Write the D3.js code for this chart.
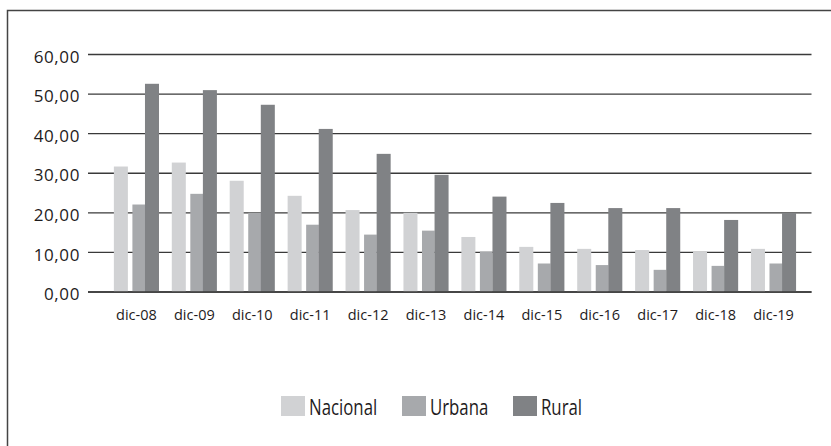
<!DOCTYPE html>
<html>
<head>
<meta charset="utf-8">
<script src="https://cdn.jsdelivr.net/npm/d3@7"></script>
<style>
  body { margin: 0; background: #fff; }
  text { font-family: "Open Sans", sans-serif; fill: #1e1b1c; }
</style>
</head>
<body>
<div id="chart"></div>
<script>
// data
var categories = ["dic-08", "dic-09", "dic-10", "dic-11", "dic-12", "dic-13",
                  "dic-14", "dic-15", "dic-16", "dic-17", "dic-18", "dic-19"];
var seriesNames = ["Nacional", "Urbana", "Rural"];
var nacional = [31.7, 32.7, 28.1, 24.3, 20.7, 20.0, 13.9, 11.4, 10.9, 10.6, 10.2, 10.9];
var urbana   = [22.1, 24.8, 20.0, 17.0, 14.5, 15.5, 10.2,  7.2,  6.8,  5.6,  6.6,  7.2];
var rural    = [52.6, 51.0, 47.3, 41.2, 34.9, 29.6, 24.1, 22.5, 21.2, 21.2, 18.2, 20.0];
var yTicks = [0, 10, 20, 30, 40, 50, 60];

var series = [nacional, urbana, rural];
var colors = ["#d1d2d4", "#a7a9ac", "#808285"];

var width = 831, height = 446;

var svg = d3.select("#chart").append("svg")
    .attr("width", width)
    .attr("height", height);

// outer frame (only left and top are visible in the picture)
svg.append("rect")
    .attr("x", 7.5).attr("y", 10.5)
    .attr("width", width).attr("height", height)
    .attr("fill", "none")
    .attr("stroke", "#444")
    .attr("stroke-width", 1.5);

var x = d3.scaleBand()
    .domain(categories)
    .range([107.5, 802.5]);

var y = d3.scaleLinear()
    .domain([0, 60])
    .range([292, 54.5]);

var locale = d3.formatLocale({decimal: ",", thousands: ".", grouping: [3], currency: ["", ""]});
var fmt = locale.format(".2f");

// gridlines
svg.append("g")
    .selectAll("line")
    .data(yTicks)
    .enter().append("line")
    .attr("x1", 88).attr("x2", 811.5)
    .attr("y1", d => y(d)).attr("y2", d => y(d))
    .attr("stroke", "#3a3a3a")
    .attr("stroke-width", 1.4);

// y labels
svg.append("g")
    .selectAll("text")
    .data(yTicks)
    .enter().append("text")
    .attr("x", 80)
    .attr("y", d => y(d))
    .attr("dy", "0.72em")
    .attr("transform", "translate(0,-4)")
    .attr("text-anchor", "end")
    .attr("font-size", 17)
    .attr("letter-spacing", 0.6)
    .text(d => fmt(d));

// bars: offsets from category centre, as fraction of band width
var bw = x.bandwidth();
var offs = [[-0.39, 0.242], [-0.07, 0.22], [0.147, 0.242]];

series.forEach(function(vals, s) {
    svg.append("g")
        .selectAll("rect")
        .data(vals)
        .enter().append("rect")
        .attr("x", (d, i) => x(categories[i]) + bw / 2 + offs[s][0] * bw)
        .attr("width", offs[s][1] * bw)
        .attr("y", d => y(d))
        .attr("height", d => y(0) - y(d))
        .attr("fill", colors[s]);
});

// zero line above bars
svg.append("line")
    .attr("x1", 88).attr("x2", 811.5)
    .attr("y1", y(0)).attr("y2", y(0))
    .attr("stroke", "#3a3a3a")
    .attr("stroke-width", 1.4);

// x labels
svg.append("g")
    .selectAll("text")
    .data(categories)
    .enter().append("text")
    .attr("x", d => x(d) + bw / 2)
    .attr("y", 320)
    .attr("text-anchor", "middle")
    .attr("font-size", 14.5)
    .text(d => d);

// legend
var legendX = [281, 402, 513];
var legend = svg.append("g")
    .selectAll("g")
    .data(seriesNames)
    .enter().append("g")
    .attr("transform", (d, i) => "translate(" + legendX[i] + ",396)");

legend.append("rect")
    .attr("width", 24).attr("height", 20)
    .attr("fill", (d, i) => colors[i]);

legend.append("text")
    .attr("transform", "translate(28,19) scale(0.8,1)")
    .attr("font-size", 21)
    .text(d => d);
</script>
</body>
</html>
